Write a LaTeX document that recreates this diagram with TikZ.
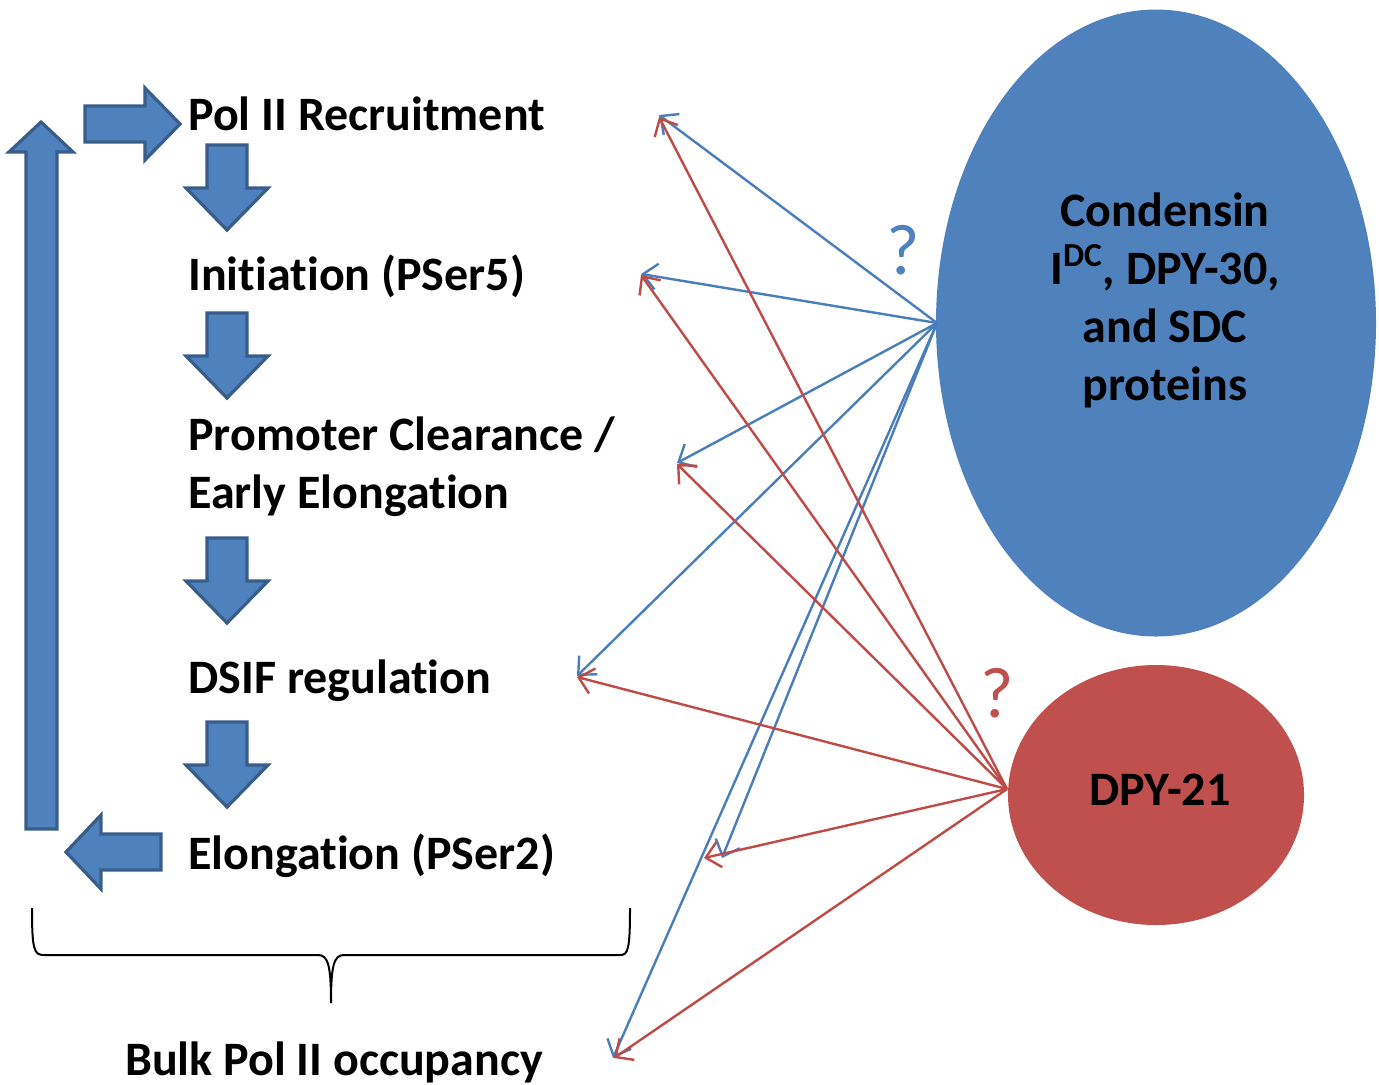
\documentclass[tikz,border=0pt]{standalone}
\usepackage{fontspec}
\setmainfont{Carlito}[Ligatures=NoCommon]
\usetikzlibrary{shapes.geometric,arrows.meta}
\definecolor{stepblue}{HTML}{4F81BD}
\definecolor{stepedge}{HTML}{385D8A}
\definecolor{dpyred}{HTML}{C0504D}
\definecolor{lineblue}{HTML}{4A7EBB}
\definecolor{linered}{HTML}{BE4B48}

\begin{document}
\begin{tikzpicture}
        [x=0.5pt,y=-0.5pt,
        stage/.style={anchor=base west,inner sep=0pt,align=left,
                font=\fontsize{24}{29}\selectfont\bfseries},
        flow/.style={fill=stepblue,draw=stepedge,line width=1.6pt},
        hit/.style={-{Straight Barb[length=7pt,width=13pt]},line width=1.2pt},
        query/.style={inner sep=0pt,font=\fontsize{36}{36}\selectfont}]
        \useasboundingbox (0,0) rectangle (1379,1084);

        % the steps of the cycle
        \node[stage] (rec) at (188,130) {Pol II Recruitment};
        \node[stage] (ini) at (188,290) {Initiation (PSer5)};
        \node[stage] (pro) at (188,508) {Promoter Clearance /\\Early Elongation};
        \node[stage] (dsif) at (188,693) {DSIF regulation};
        \node[stage] (elo) at (188,869) {Elongation (PSer2)};
        \node[stage,anchor=base] (bulk) at (334,1075) {Bulk Pol II occupancy};

        % block arrows
        \foreach \t in {145,313,538,722}
                \draw[flow] (207,\t) -- (247,\t) -- (247,\t+43) -- (268,\t+43)
                        -- (227,\t+85) -- (186,\t+43) -- (207,\t+43) -- cycle;
        \draw[flow] (85,106) -- (145,106) -- (145,88) -- (180,124) -- (145,160)
                -- (145,142) -- (85,142) -- cycle;
        \draw[flow] (26,829) -- (26,152) -- (9,152) -- (41,122) -- (73,152)
                -- (57,152) -- (57,829) -- cycle;
        \draw[flow] (161,834) -- (101,834) -- (101,815) -- (66,852) -- (101,889)
                -- (101,870) -- (161,870) -- cycle;

        % brace under the steps
        \draw[line width=1pt] (32,908) .. controls (32,950) and (34,955) .. (44,955)
                -- (318,955) .. controls (328,955) and (331,965) .. (331,1003)
                .. controls (331,965) and (334,955) .. (344,955) -- (620,955)
                .. controls (628,955) and (630,950) .. (630,908);

        % the two complexes
        \node[ellipse,fill=stepblue,inner sep=0pt,minimum width=220pt,
                minimum height=313.5pt] (cond) at (1156,323) {};
        \node[align=center,inner sep=0pt,font=\fontsize{24}{29}\selectfont\bfseries]
                (condtext) at (1165,300) {Condensin\\I\textsuperscript{DC}, DPY-30,\\and SDC\\proteins};
        \node[ellipse,fill=dpyred,inner sep=0pt,minimum width=148pt,
                minimum height=130pt] (dpy) at (1156,795) {};
        \node[inner sep=0pt,font=\fontsize{24}{29}\selectfont\bfseries]
                (dpytext) at (1160,790) {DPY-21};
        \node[query,text=stepblue] (qblue) at (903,250) {?};
        \node[query,text=dpyred] (qred) at (997,693) {?};

        % arrow ends
        \coordinate (recB) at (659,115);
        \coordinate (recR) at (659,117);
        \coordinate (iniB) at (641,274);
        \coordinate (iniR) at (641,275);
        \coordinate (proB) at (677,463);
        \coordinate (proR) at (677,464);
        \coordinate (dsifB) at (577,676);
        \coordinate (dsifR) at (577,677);
        \coordinate (eloB) at (722,858);
        \coordinate (eloR) at (704,858);
        \coordinate (bulkB) at (613,1058);
        \coordinate (bulkR) at (614,1058);
        \coordinate (csrc) at (937,323);
        \coordinate (dsrc) at (1007,789);

        \foreach \s in {rec,ini,pro,dsif,elo,bulk}
                \draw[hit,lineblue] (csrc) -- (\s B);
        \foreach \s in {rec,ini,pro,dsif,elo,bulk}
                \draw[hit,linered] (dsrc) -- (\s R);
\end{tikzpicture}
\end{document}
